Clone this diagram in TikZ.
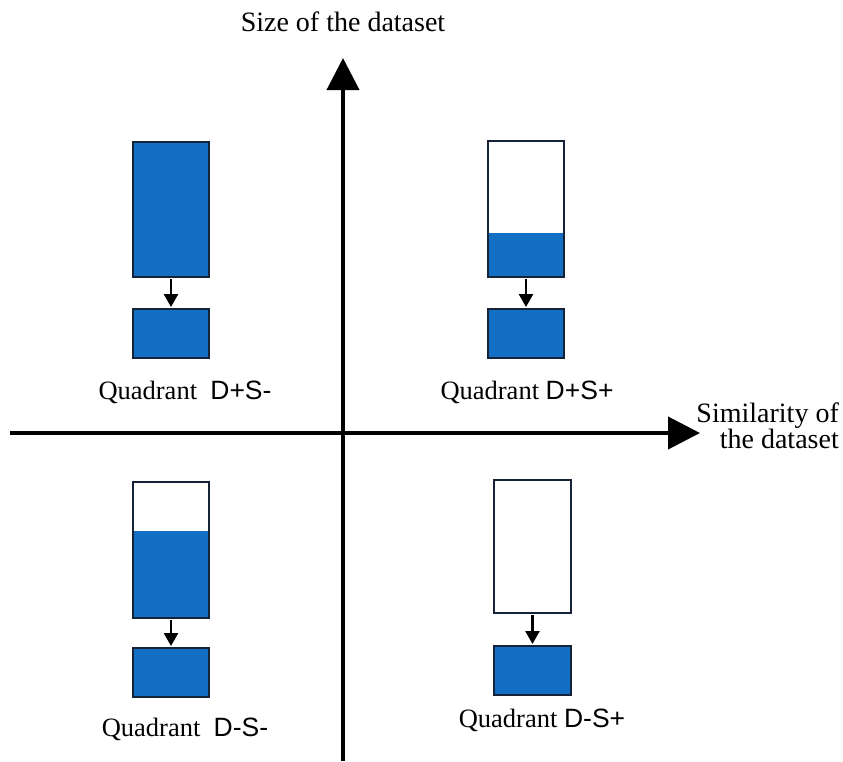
\documentclass[tikz,border=0pt]{standalone}
\usepackage{fontspec}
\setmainfont{Liberation Serif}
\newfontfamily\lsans{Liberation Sans}
\usetikzlibrary{arrows.meta}
\definecolor{qblue}{RGB}{18,111,196}
\definecolor{boxline}{RGB}{20,35,55}
\tikzset{
  box/.style={draw=boxline, line width=1.8pt, minimum width=76pt, inner sep=0pt, outer sep=0pt},
  fullbox/.style={box, fill=qblue},
  emptybox/.style={box, fill=white},
  partbox/.style={box, fill=white, path picture={\fill[qblue] (path picture bounding box.south west) rectangle ([yshift=#1]path picture bounding box.south east);}},
  axis/.style={line width=4pt, -{Triangle[length=32pt,width=32pt]}},
  flow/.style={line width=2.6pt, -{Triangle[length=13pt,width=14pt]}, shorten <=2pt, shorten >=2pt},
  qlabel/.style={font=\fontsize{26.5}{30}\selectfont, inner sep=0pt},
  alabel/.style={font=\fontsize{28}{30}\selectfont, inner sep=0pt, align=right}
}
\begin{document}
\begin{tikzpicture}[x=1pt,y=-1pt]
\useasboundingbox (0,0) rectangle (843,761);
% axes
\coordinate (vb) at (343,761);
\coordinate (vt) at (343,58);
\coordinate (hl) at (10,433);
\coordinate (hr) at (700,433);
\draw[axis] (vb) -- (vt);
\draw[axis] (hl) -- (hr);
\node[alabel] (ylab) at (343,22) {Size of the dataset};
\node[alabel, anchor=east] (xlab) at (839,426) {Similarity of\\[-4pt]the dataset};
% top-left
\node[fullbox, minimum height=135pt] (tlb) at (171,209.5) {};
\node[fullbox, minimum height=49pt] (tls) at (171,333.5) {};
\draw[flow] (tlb.south) -- (tls.north);
\node[qlabel] (tll) at (185,392) {Quadrant\ \ {\lsans D+S-}};
% top-right
\node[partbox=44pt, minimum height=136pt] (trb) at (526,209) {};
\node[fullbox, minimum height=49pt] (trs) at (526,333.5) {};
\draw[flow] (trb.south) -- (trs.north);
\node[qlabel] (trl) at (527,392) {Quadrant {\lsans D+S+}};
% bottom-left
\node[partbox=87pt, minimum height=136pt] (blb) at (171,550) {};
\node[fullbox, minimum height=49pt] (bls) at (171,672.5) {};
\draw[flow] (blb.south) -- (bls.north);
\node[qlabel] (bll) at (185,729) {Quadrant\ \ {\lsans D-S-}};
% bottom-right
\node[emptybox, minimum width=77pt, minimum height=133pt] (brb) at (532.5,546.5) {};
\node[fullbox, minimum width=77pt, minimum height=49pt] (brs) at (532.5,670.5) {};
\draw[flow] (brb.south) -- (brs.north);
\node[qlabel] (brl) at (542,720) {Quadrant {\lsans D-S+}};
\end{tikzpicture}
\end{document}
